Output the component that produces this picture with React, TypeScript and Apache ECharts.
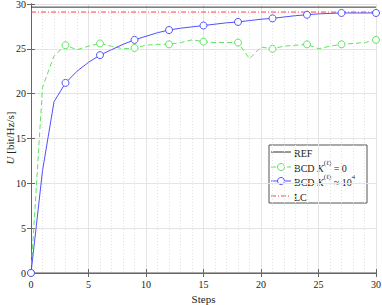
import React, { useEffect, useRef } from "react";
import * as echarts from "echarts";

const steps = [0, 1, 2, 3, 4, 5, 6, 7, 8, 9, 10, 11, 12, 13, 14, 15, 16, 17, 18, 19, 20, 21, 22, 23, 24, 25, 26, 27, 28, 29, 30];
const bcdK0 = [0, 20.7, 24.2, 25.4, 24.9, 25.3, 25.6, 25.3, 25.0, 25.1, 25.4, 25.5, 25.5, 25.7, 26.0, 25.8, 25.7, 25.7, 25.7, 23.9, 25.2, 25.0, 25.3, 25.4, 25.5, 25.0, 25.3, 25.5, 25.6, 25.7, 26.0];
const bcdK4 = [0, 11.4, 19.1, 21.2, 22.5, 23.5, 24.3, 24.9, 25.5, 26.0, 26.4, 26.8, 27.1, 27.3, 27.45, 27.6, 27.75, 27.9, 28.0, 28.15, 28.3, 28.4, 28.55, 28.7, 28.8, 28.9, 28.95, 29.0, 29.0, 29.0, 29.0];
const refValue = 29.65;
const lcValue = 29.1;
const xTicks = [0, 5, 10, 15, 20, 25, 30];
const yTicks = [0, 5, 10, 15, 20, 25, 30];
const legendLabels = [
  "{t|REF}",
  "{t|BCD }{i|K}{s|(ℓ)}{t| = 0}",
  "{t|BCD }{i|K}{s|(ℓ)}{t| ≈ 10}{s|4}",
  "{t|LC}",
];
const xName = "Steps";
const yName = "{i|U}{t| [bit/Hz/s]}";

const FONT = "Liberation Serif";

const C_REF = "#333333";
const C_G = "#5fe35f";
const C_B = "#5050ff";
const C_R = "#ff4040";

export default function App() {
  const ref = useRef<HTMLDivElement>(null);
  useEffect(() => {
    if (!ref.current) return;
    const chart = echarts.init(ref.current, null, { renderer: "svg" });
    const markEvery = (arr: number[]) =>
      arr.map((v, i) => ({ value: [steps[i], v], symbol: i % 3 === 0 ? "circle" : "none" }));
    const constLine = (v: number) => [
      [steps[0], v],
      [steps[steps.length - 1], v],
    ];
    const axisColor = "#666";
    const textColor = "#222";
    const rich = {
      t: { fontFamily: FONT, fontSize: 10, color: textColor, lineHeight: 15, verticalAlign: "bottom" },
      i: { fontFamily: FONT, fontSize: 10, fontStyle: "italic", color: textColor, lineHeight: 15, verticalAlign: "bottom" },
      s: { fontFamily: FONT, fontSize: 6.5, color: textColor, lineHeight: 7, verticalAlign: "top" },
    };

    const lgX = 269, lgY = 145, lgW = 98, lgH = 58;
    const rowY = [7, 22, 36, 51];
    const styles = [
      { stroke: C_REF, lineDash: null as any, marker: false },
      { stroke: C_G, lineDash: [5, 3], marker: true },
      { stroke: C_B, lineDash: null as any, marker: true },
      { stroke: C_R, lineDash: [5, 2, 1, 2], marker: false },
    ];
    const legendChildren: any[] = [
      {
        type: "rect",
        shape: { x: 0, y: 0, width: lgW, height: lgH },
        style: { fill: "#fff", stroke: "#555", lineWidth: 1 },
      },
    ];
    styles.forEach((s, k) => {
      legendChildren.push({
        type: "line",
        shape: { x1: 2, y1: rowY[k], x2: 22, y2: rowY[k] },
        style: { stroke: s.stroke, lineWidth: 1, lineDash: s.lineDash },
      });
      if (s.marker) {
        legendChildren.push({
          type: "circle",
          shape: { cx: 12, cy: rowY[k], r: 3.5 },
          style: { fill: "#fff", stroke: s.stroke, lineWidth: 1 },
        });
      }
      legendChildren.push({
        type: "text",
        x: 25,
        y: rowY[k] - 1,
        style: {
          text: legendLabels[k],
          rich,
          verticalAlign: "middle",
          align: "left",
          fontFamily: FONT,
          fontSize: 10,
          fill: textColor,
        },
      });
    });

    chart.setOption({
      animation: false,
      backgroundColor: "#fff",
      grid: { left: 31, right: 6, top: 4, bottom: 32, containLabel: false, outerBoundsMode: "none" },
      graphic: [
        { type: "group", x: lgX, y: lgY, z: 100, children: legendChildren },
        {
          type: "text",
          x: 10,
          y: 138,
          rotation: Math.PI / 2,
          z: 100,
          style: {
            text: yName,
            align: "center",
            verticalAlign: "middle",
            fontFamily: FONT,
            fontSize: 11,
            fill: textColor,
            rich: {
              t: { fontFamily: FONT, fontSize: 11, color: textColor },
              i: { fontFamily: FONT, fontSize: 11, fontStyle: "italic", color: textColor },
            },
          },
        },
      ],
      xAxis: [
        {
          type: "value",
          min: xTicks[0],
          max: xTicks[xTicks.length - 1],
          interval: 5,
          name: xName,
          nameLocation: "middle",
          nameGap: 20,
          nameTextStyle: { fontFamily: FONT, fontSize: 11, color: textColor },
          axisLine: { show: true, lineStyle: { color: "#aaa", width: 2 } },
          axisTick: { show: true, inside: true, length: 4, lineStyle: { color: axisColor } },
          axisLabel: { fontFamily: FONT, fontSize: 10, color: textColor, margin: 6 },
          splitLine: { show: true, lineStyle: { color: "#e4e4e4", width: 1 } },
          minorTick: { show: false, splitNumber: 5 },
          minorSplitLine: { show: true, lineStyle: { color: "#e2e2e2", type: [1, 2], width: 1 } },
        },
        {
          type: "value",
          position: "top",
          min: xTicks[0],
          max: xTicks[xTicks.length - 1],
          interval: 5,
          axisLine: { show: true, lineStyle: { color: axisColor, width: 1 } },
          axisTick: { show: true, inside: true, length: 4, lineStyle: { color: axisColor } },
          axisLabel: { show: false },
          splitLine: { show: false },
        },
      ],
      yAxis: [
        {
          type: "value",
          min: yTicks[0],
          max: yTicks[yTicks.length - 1],
          interval: 5,
          axisLine: { show: true, lineStyle: { color: axisColor, width: 1 } },
          axisTick: { show: true, inside: true, length: 4, lineStyle: { color: axisColor } },
          axisLabel: { fontFamily: FONT, fontSize: 10, color: textColor, margin: 5 },
          splitLine: { show: true, lineStyle: { color: "#e4e4e4", width: 1 } },
        },
        {
          type: "value",
          position: "right",
          min: yTicks[0],
          max: yTicks[yTicks.length - 1],
          interval: 5,
          axisLine: { show: true, lineStyle: { color: axisColor, width: 1 } },
          axisTick: { show: true, inside: true, length: 4, lineStyle: { color: axisColor } },
          axisLabel: { show: false },
          splitLine: { show: false },
        },
      ],
      series: [
        {
          name: "REF",
          type: "line",
          data: constLine(refValue),
          symbol: "none",
          lineStyle: { color: C_REF, width: 1 },
          z: 3,
        },
        {
          name: "BCD K0",
          type: "line",
          data: markEvery(bcdK0),
          showAllSymbol: true,
          symbolSize: 7,
          lineStyle: { color: C_G, width: 1, type: [5, 3] },
          itemStyle: { color: "#fff", borderColor: C_G, borderWidth: 1 },
          z: 4,
        },
        {
          name: "BCD K4",
          type: "line",
          data: markEvery(bcdK4),
          showAllSymbol: true,
          symbolSize: 7,
          lineStyle: { color: C_B, width: 1 },
          itemStyle: { color: "#fff", borderColor: C_B, borderWidth: 1 },
          z: 5,
        },
        {
          name: "LC",
          type: "line",
          data: constLine(lcValue),
          symbol: "none",
          lineStyle: { color: C_R, width: 1, type: [5, 2, 1, 2] },
          z: 3,
        },
      ],
    });
    return () => chart.dispose();
  }, []);
  return (
    <div
      ref={ref}
      style={{ position: "fixed", left: 0, top: 0, width: 382, height: 305 }}
    />
  );
}
